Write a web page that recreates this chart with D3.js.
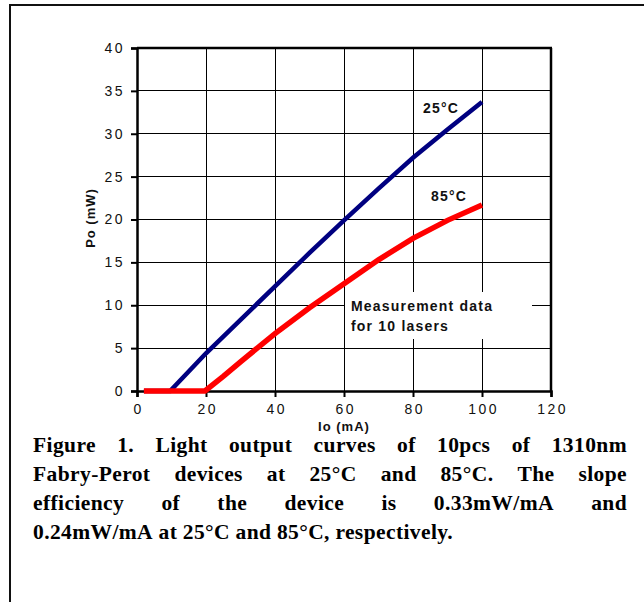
<!DOCTYPE html>
<html>
<head>
<meta charset="utf-8">
<script src="https://cdn.jsdelivr.net/npm/d3@7"></script>
<style>
    body { margin: 0; background: #fff; }
    svg { display: block; }
</style>
</head>
<body>
<div id="chartArea"></div>
<script>
// data
var current25 = [2, 9.6, 20, 30, 40, 50, 60, 70, 80, 90, 100];
var power25 = [0, 0, 4.4, 8.3, 12.2, 16.1, 19.9, 23.6, 27.2, 30.5, 33.7];
var current85 = [2, 19.7, 25, 30, 40, 50, 60, 70, 80, 90, 100];
var power85 = [0, 0, 1.7, 3.4, 6.7, 9.7, 12.5, 15.3, 17.8, 19.9, 21.7];
var xTicks = [0, 20, 40, 60, 80, 100, 120];
var yTicks = [0, 5, 10, 15, 20, 25, 30, 35, 40];
var captionLines = [
    "Figure 1. Light output curves of 10pcs of 1310nm",
    "Fabry-Perot devices at 25\u00B0C and 85\u00B0C. The slope",
    "efficiency of the device is 0.33mW/mA and",
    "0.24mW/mA at 25\u00B0C and 85\u00B0C, respectively."
];

var W = 644, H = 602;
// (plotTop, not top: window.top is read only)
var plotLeft = 137, plotRight = 551, plotTop = 48, plotBottom = 391;

var svg = d3.select("#chartArea").append("svg")
    .attr("width", W)
    .attr("height", H);

//outer frame, runs off the right and bottom edge
svg.append("rect")
    .attr("x", 10).attr("y", 5)
    .attr("width", 700).attr("height", 700)
    .attr("fill", "none")
    .attr("stroke", "#111")
    .attr("stroke-width", 2);

var x = d3.scaleLinear().domain([0, 120]).range([plotLeft, plotRight]);
var y = d3.scaleLinear().domain([0, 40]).range([plotBottom, plotTop]);

//gridlines
var grid = svg.append("g").attr("class", "grid");
grid.selectAll("line.v")
    .data(xTicks.filter(d => d > 0 && d < 120))
    .enter().append("line")
    .attr("x1", d => x(d)).attr("x2", d => x(d))
    .attr("y1", plotTop).attr("y2", plotBottom)
    .attr("stroke", "#000").attr("stroke-width", 1)
    .attr("shape-rendering", "crispEdges");
grid.selectAll("line.h")
    .data(yTicks.filter(d => d > 0 && d < 40))
    .enter().append("line")
    .attr("x1", plotLeft).attr("x2", plotRight)
    .attr("y1", d => y(d)).attr("y2", d => y(d))
    .attr("stroke", "#000").attr("stroke-width", 1)
    .attr("shape-rendering", "crispEdges");

//white box behind the note
svg.append("rect")
    .attr("x", 345).attr("y", 292)
    .attr("width", 187).attr("height", 47)
    .attr("fill", "#fff");

//axes
var xAxis = svg.append("g")
    .attr("transform", "translate(0," + plotBottom + ")")
    .call(d3.axisBottom(x).tickValues(xTicks).tickSize(6).tickPadding(7));
var yAxis = svg.append("g")
    .attr("transform", "translate(" + plotLeft + ",0)")
    .call(d3.axisLeft(y).tickValues(yTicks).tickSize(6).tickPadding(6));

[xAxis, yAxis].forEach(function (ax) {
    ax.select(".domain").attr("stroke", "#000").attr("stroke-width", 2.5);
    ax.selectAll(".tick line").attr("stroke", "#000").attr("stroke-width", 2);
    ax.selectAll(".tick text")
        .attr("fill", "#111")
        .style("font-family", "'Liberation Sans', Arial, sans-serif")
        .style("font-size", "14px")
        .style("letter-spacing", "2.5px");
});
xAxis.selectAll(".tick text").attr("dx", "1.2px");

//top and right frame of the plot
svg.append("line")
    .attr("x1", plotLeft).attr("x2", plotRight + 1)
    .attr("y1", plotTop).attr("y2", plotTop)
    .attr("stroke", "#000").attr("stroke-width", 2.5);
svg.append("line")
    .attr("x1", plotRight).attr("x2", plotRight)
    .attr("y1", plotTop).attr("y2", plotBottom)
    .attr("stroke", "#000").attr("stroke-width", 2.5);

//curves
var line = d3.line().x(d => x(d[0])).y(d => y(d[1]));
var pts25 = current25.map((c, i) => [c, power25[i]]);
var pts85 = current85.map((c, i) => [c, power85[i]]);

svg.append("path")
    .datum(pts25)
    .attr("d", line)
    .attr("fill", "none")
    .attr("stroke", "#000080")
    .attr("stroke-width", 4.5);
svg.append("path")
    .datum(pts85)
    .attr("d", line)
    .attr("fill", "none")
    .attr("stroke", "#ff0000")
    .attr("stroke-width", 5.5);

//labels
var sans = "'Liberation Sans', Arial, sans-serif";
function label(txt, lx, ly, size) {
    return svg.append("text")
        .attr("x", lx).attr("y", ly)
        .attr("fill", "#111")
        .style("font-family", sans)
        .style("font-weight", "bold")
        .style("font-size", size + "px")
        .style("letter-spacing", "1.2px")
        .text(txt);
}
label("25\u00B0C", 423, 113, 14);
label("85\u00B0C", 431, 201, 14);
label("Measurement data", 351, 311, 14);
label("for 10 lasers", 351, 331, 14);

svg.append("text")
    .attr("x", (plotLeft + plotRight) / 2).attr("y", 431)
    .attr("text-anchor", "middle")
    .attr("fill", "#111")
    .style("font-family", sans)
    .style("font-weight", "bold")
    .style("font-size", "13px")
    .style("letter-spacing", "1px")
    .text("Io (mA)");

svg.append("text")
    .attr("transform", "translate(95,218) rotate(-90)")
    .attr("text-anchor", "middle")
    .attr("fill", "#111")
    .style("font-family", sans)
    .style("font-weight", "bold")
    .style("font-size", "13px")
    .style("letter-spacing", "1px")
    .text("Po (mW)");

//caption: bold serif, first three lines justified by hand
var capLeft = 33, capRight = 627;
var serif = "'Liberation Serif', 'Times New Roman', serif";
captionLines.forEach(function (ln, i) {
    var g = svg.append("g")
        .attr("transform", "translate(" + capLeft + "," + (452 + i * 29) + ")");
    var words = ln.split(" ");
    var nodes = words.map(function (w) {
        return g.append("text")
            .attr("fill", "#000")
            .style("font-family", serif)
            .style("font-weight", "bold")
            .style("font-size", "21.5px")
            .style("letter-spacing", "0.4px")
            .text(w);
    });
    var widths = nodes.map(n => n.node().getComputedTextLength());
    var space = 5.5;
    if (i < captionLines.length - 1) {
        space = (capRight - capLeft - d3.sum(widths)) / (words.length - 1);
    }
    var cx = 0;
    nodes.forEach(function (n, j) {
        n.attr("x", cx);
        cx += widths[j] + space;
    });
});
</script>
</body>
</html>
